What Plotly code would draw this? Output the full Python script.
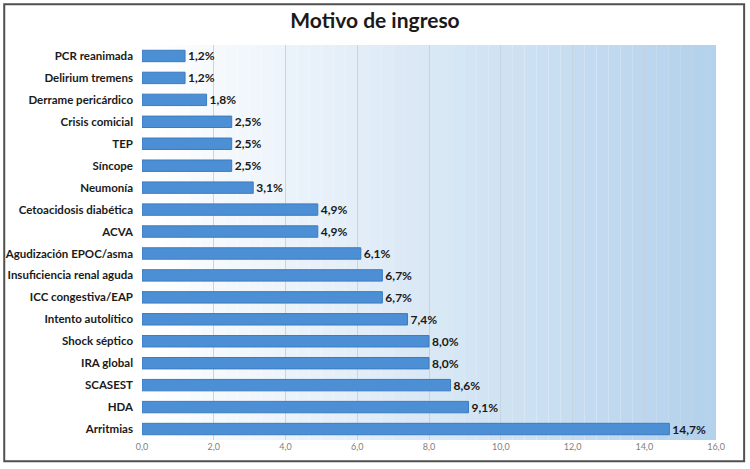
import plotly.graph_objects as go

categories = ["Arritmias", "HDA", "SCASEST", "IRA global", "Shock séptico", "Intento autolítico",
              "ICC congestiva/EAP", "Insuficiencia renal aguda", "Agudización EPOC/asma", "ACVA",
              "Cetoacidosis diabética", "Neumonía", "Síncope", "TEP", "Crisis comicial",
              "Derrame pericárdico", "Delirium tremens", "PCR reanimada"]
values = [14.7, 9.1, 8.6, 8.0, 8.0, 7.4, 6.7, 6.7, 6.1, 4.9, 4.9, 3.1, 2.5, 2.5, 2.5, 1.8, 1.2, 1.2]
tick_vals = [0, 2, 4, 6, 8, 10, 12, 14, 16]

FONT = "Lato, Open Sans, sans-serif"

fig = go.Figure()
fig.add_trace(go.Bar(
    y=categories, x=values, orientation="h",
    marker=dict(color="#4d8fd5", line=dict(color="#3b7bc0", width=1)),
    texttemplate="<b>%{x:.1f}%</b>", textposition="outside", constraintext="none",
    textfont=dict(family=FONT, size=12, color="#1a1a1a"),
    cliponaxis=False, width=0.52,
))

# gradient background (white -> light blue)
n = 48
shapes = []
for i in range(n):
    t = i / (n - 1)
    r = int(255 + (180 - 255) * t)
    g = int(255 + (210 - 255) * t)
    b = int(255 + (236 - 255) * t)
    shapes.append(dict(type="rect", xref="x domain", yref="y domain",
                       x0=i / n, x1=(i + 1) / n, y0=0, y1=1,
                       fillcolor=f"rgb({r},{g},{b})", line=dict(width=0), layer="below"))
# outer frame
shapes.append(dict(type="rect", xref="paper", yref="paper", x0=-0.240, x1=1.049, y0=-0.054, y1=1.103,
                   line=dict(color="#505050", width=2), fillcolor="rgba(0,0,0,0)", layer="above"))

fig.update_layout(
    width=750, height=469,
    paper_bgcolor="white", plot_bgcolor="white",
    margin=dict(l=142, r=34, t=45, b=29, autoexpand=False),
    separators=",.",
    title=dict(text="<b>Motivo de ingreso</b>", x=0.5, xanchor="center", y=0.955, yanchor="middle",
               font=dict(family=FONT, size=21, color="#1a1a1a")),
    xaxis=dict(range=[0, 16], tickvals=tick_vals, tickformat=".1f", automargin=False,
               showgrid=True, gridcolor="rgba(195,208,222,0.9)", gridwidth=1,
               tickfont=dict(family=FONT, size=9, color="#808080"),
               zeroline=False, showline=False, ticks=""),
    yaxis=dict(categoryorder="array", categoryarray=categories, automargin=False,
               tickprefix="<b>", ticksuffix="</b>",
               tickfont=dict(family=FONT, size=11.5, color="#1a1a1a"),
               ticklabelstandoff=8, showgrid=False, ticks=""),
    shapes=shapes,
    showlegend=False,
    font=dict(family=FONT),
)

fig.write_html("out.html", config={"displayModeBar": False},
               post_script="document.body.style.margin='0';document.body.style.overflow='hidden';")
